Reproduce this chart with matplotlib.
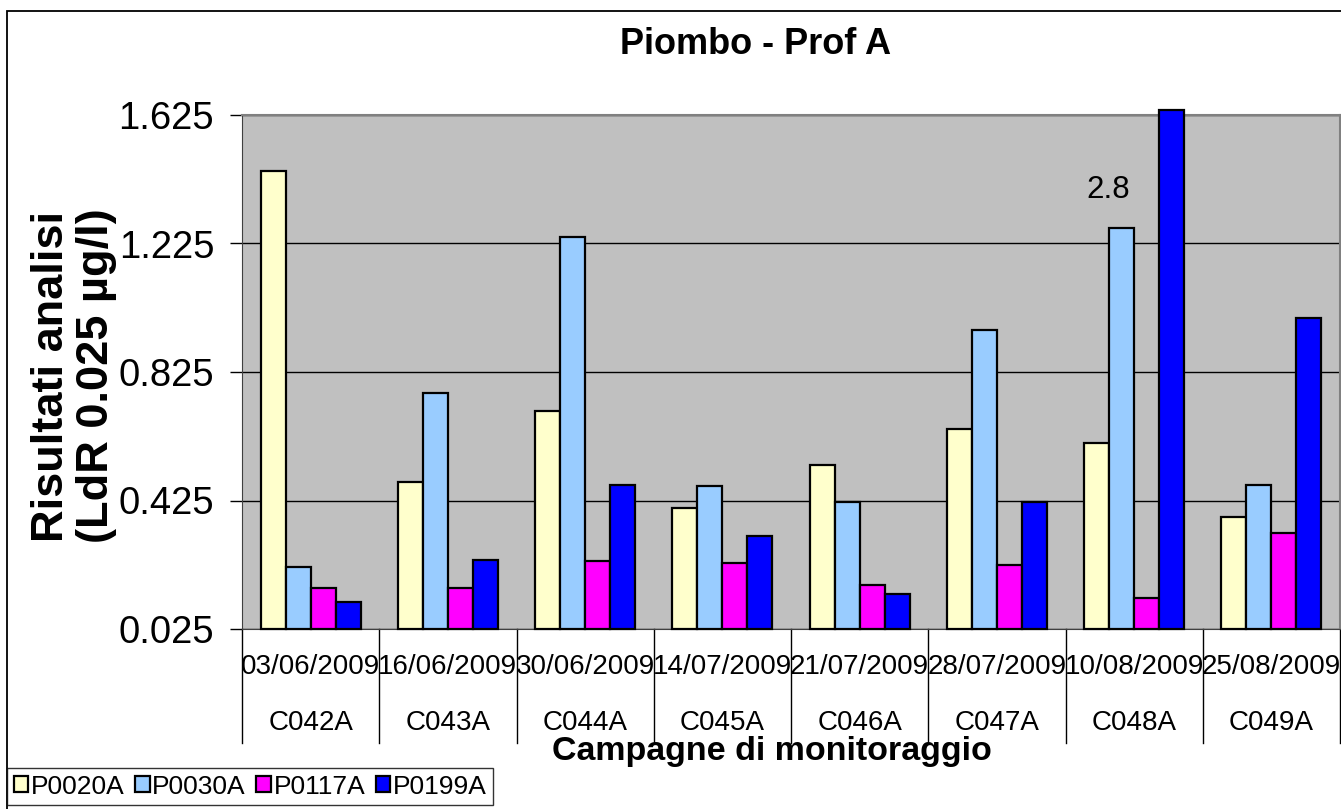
import numpy as np
import matplotlib
matplotlib.use("Agg")
import matplotlib.pyplot as plt
from matplotlib.patches import Rectangle

plt.rcParams['font.family'] = ['Liberation Sans', 'DejaVu Sans']

# data
dates = ['03/06/2009', '16/06/2009', '30/06/2009', '14/07/2009',
         '21/07/2009', '28/07/2009', '10/08/2009', '25/08/2009']
codes = ['C042A', 'C043A', 'C044A', 'C045A', 'C046A', 'C047A', 'C048A', 'C049A']
series = ['P0020A', 'P0030A', 'P0117A', 'P0199A']
p0020a = [1.451, 0.483, 0.704, 0.402, 0.536, 0.648, 0.604, 0.374]
p0030a = [0.218, 0.760, 1.245, 0.470, 0.420, 0.956, 1.273, 0.473]
p0117a = [0.153, 0.153, 0.237, 0.230, 0.162, 0.224, 0.122, 0.324]
p0199a = [0.109, 0.240, 0.473, 0.314, 0.134, 0.420, 2.8, 0.993]
colors = ['#FFFFCC', '#99CCFF', '#FF00FF', '#0000FF']
yticks = [0.025, 0.425, 0.825, 1.225, 1.625]

W, H = 1341, 809
fig = plt.figure(figsize=(W / 100, H / 100), dpi=100)
ax = fig.add_axes([242 / W, 1 - 629 / H, 1098 / W, 514 / H])
ax.set_facecolor('#C0C0C0')

ymin, ymax = 0.025, 1.625
x = np.arange(len(codes))
bw = 0.182
offs = (np.arange(4) - 1.5) * bw
for k, vals in enumerate([p0020a, p0030a, p0117a, p0199a]):
    v = np.minimum(np.array(vals), ymax + 0.015)
    ax.bar(x + offs[k], v - ymin, bw, bottom=ymin, color=colors[k],
           edgecolor='black', linewidth=1.6, label=series[k], zorder=3,
           clip_on=False)

# off-scale value label
ax.text(6 + offs[1] - 0.1, 1.39, '2.8', fontsize=22.5, ha='center', va='center')

ax.set_xlim(-0.5, len(codes) - 0.5)
ax.set_ylim(ymin, ymax)
ax.set_yticks(yticks)
ax.set_yticklabels(['%.3f' % t for t in yticks])
ax.tick_params(axis='y', labelsize=27.5, length=9, width=1, pad=11)
ax.set_xticks([])
ax.yaxis.grid(True, color='black', linewidth=1)
ax.set_axisbelow(True)
for s in ['top', 'right']:
    ax.spines[s].set_color('#808080')
    ax.spines[s].set_linewidth(1.5)
ax.spines['left'].set_color('#404040')
ax.spines['bottom'].set_color('#404040')

# category table below the axis
tr = ax.get_xaxis_transform()
for b in np.arange(len(codes) + 1) - 0.5:
    ax.plot([b, b], [0, -0.222], transform=tr, color='black', lw=1, clip_on=False)
for i in range(len(codes)):
    ax.text(i, -0.074, dates[i], transform=tr, ha='center', va='center', fontsize=20)
    ax.text(i, -0.183, codes[i], transform=tr, ha='center', va='center', fontsize=20)

fig.text(756 / W, 1 - 45 / H, 'Piombo - Prof A', ha='center', va='center',
         fontsize=26, fontweight='bold')
fig.text(772 / W, 1 - 760 / H, 'Campagne di monitoraggio', ha='center', va='baseline',
         fontsize=24.5, fontweight='bold')
fig.text(74 / W, 1 - 376 / H, 'Risultati analisi\n(LdR 0.025 µg/l)', rotation=90,
         ha='center', va='center', fontsize=32.5, fontweight='bold', linespacing=1.15,
         multialignment='center')

# outer chart border
fig.patches.append(Rectangle((7 / W, -0.1), 1.2, 1.1 - 11 / H, transform=fig.transFigure,
                             fill=False, edgecolor='black', lw=1.3))

leg = fig.legend(loc='upper left', bbox_to_anchor=(7 / W, 1 - 768 / H), ncol=4,
                 fontsize=19, frameon=True, fancybox=False, edgecolor='black',
                 handlelength=0.55, handleheight=0.55, handletextpad=0.1,
                 columnspacing=0.4, borderpad=0.25, borderaxespad=0)
leg.get_frame().set_linewidth(1)

fig.savefig('out.png', dpi=100)
